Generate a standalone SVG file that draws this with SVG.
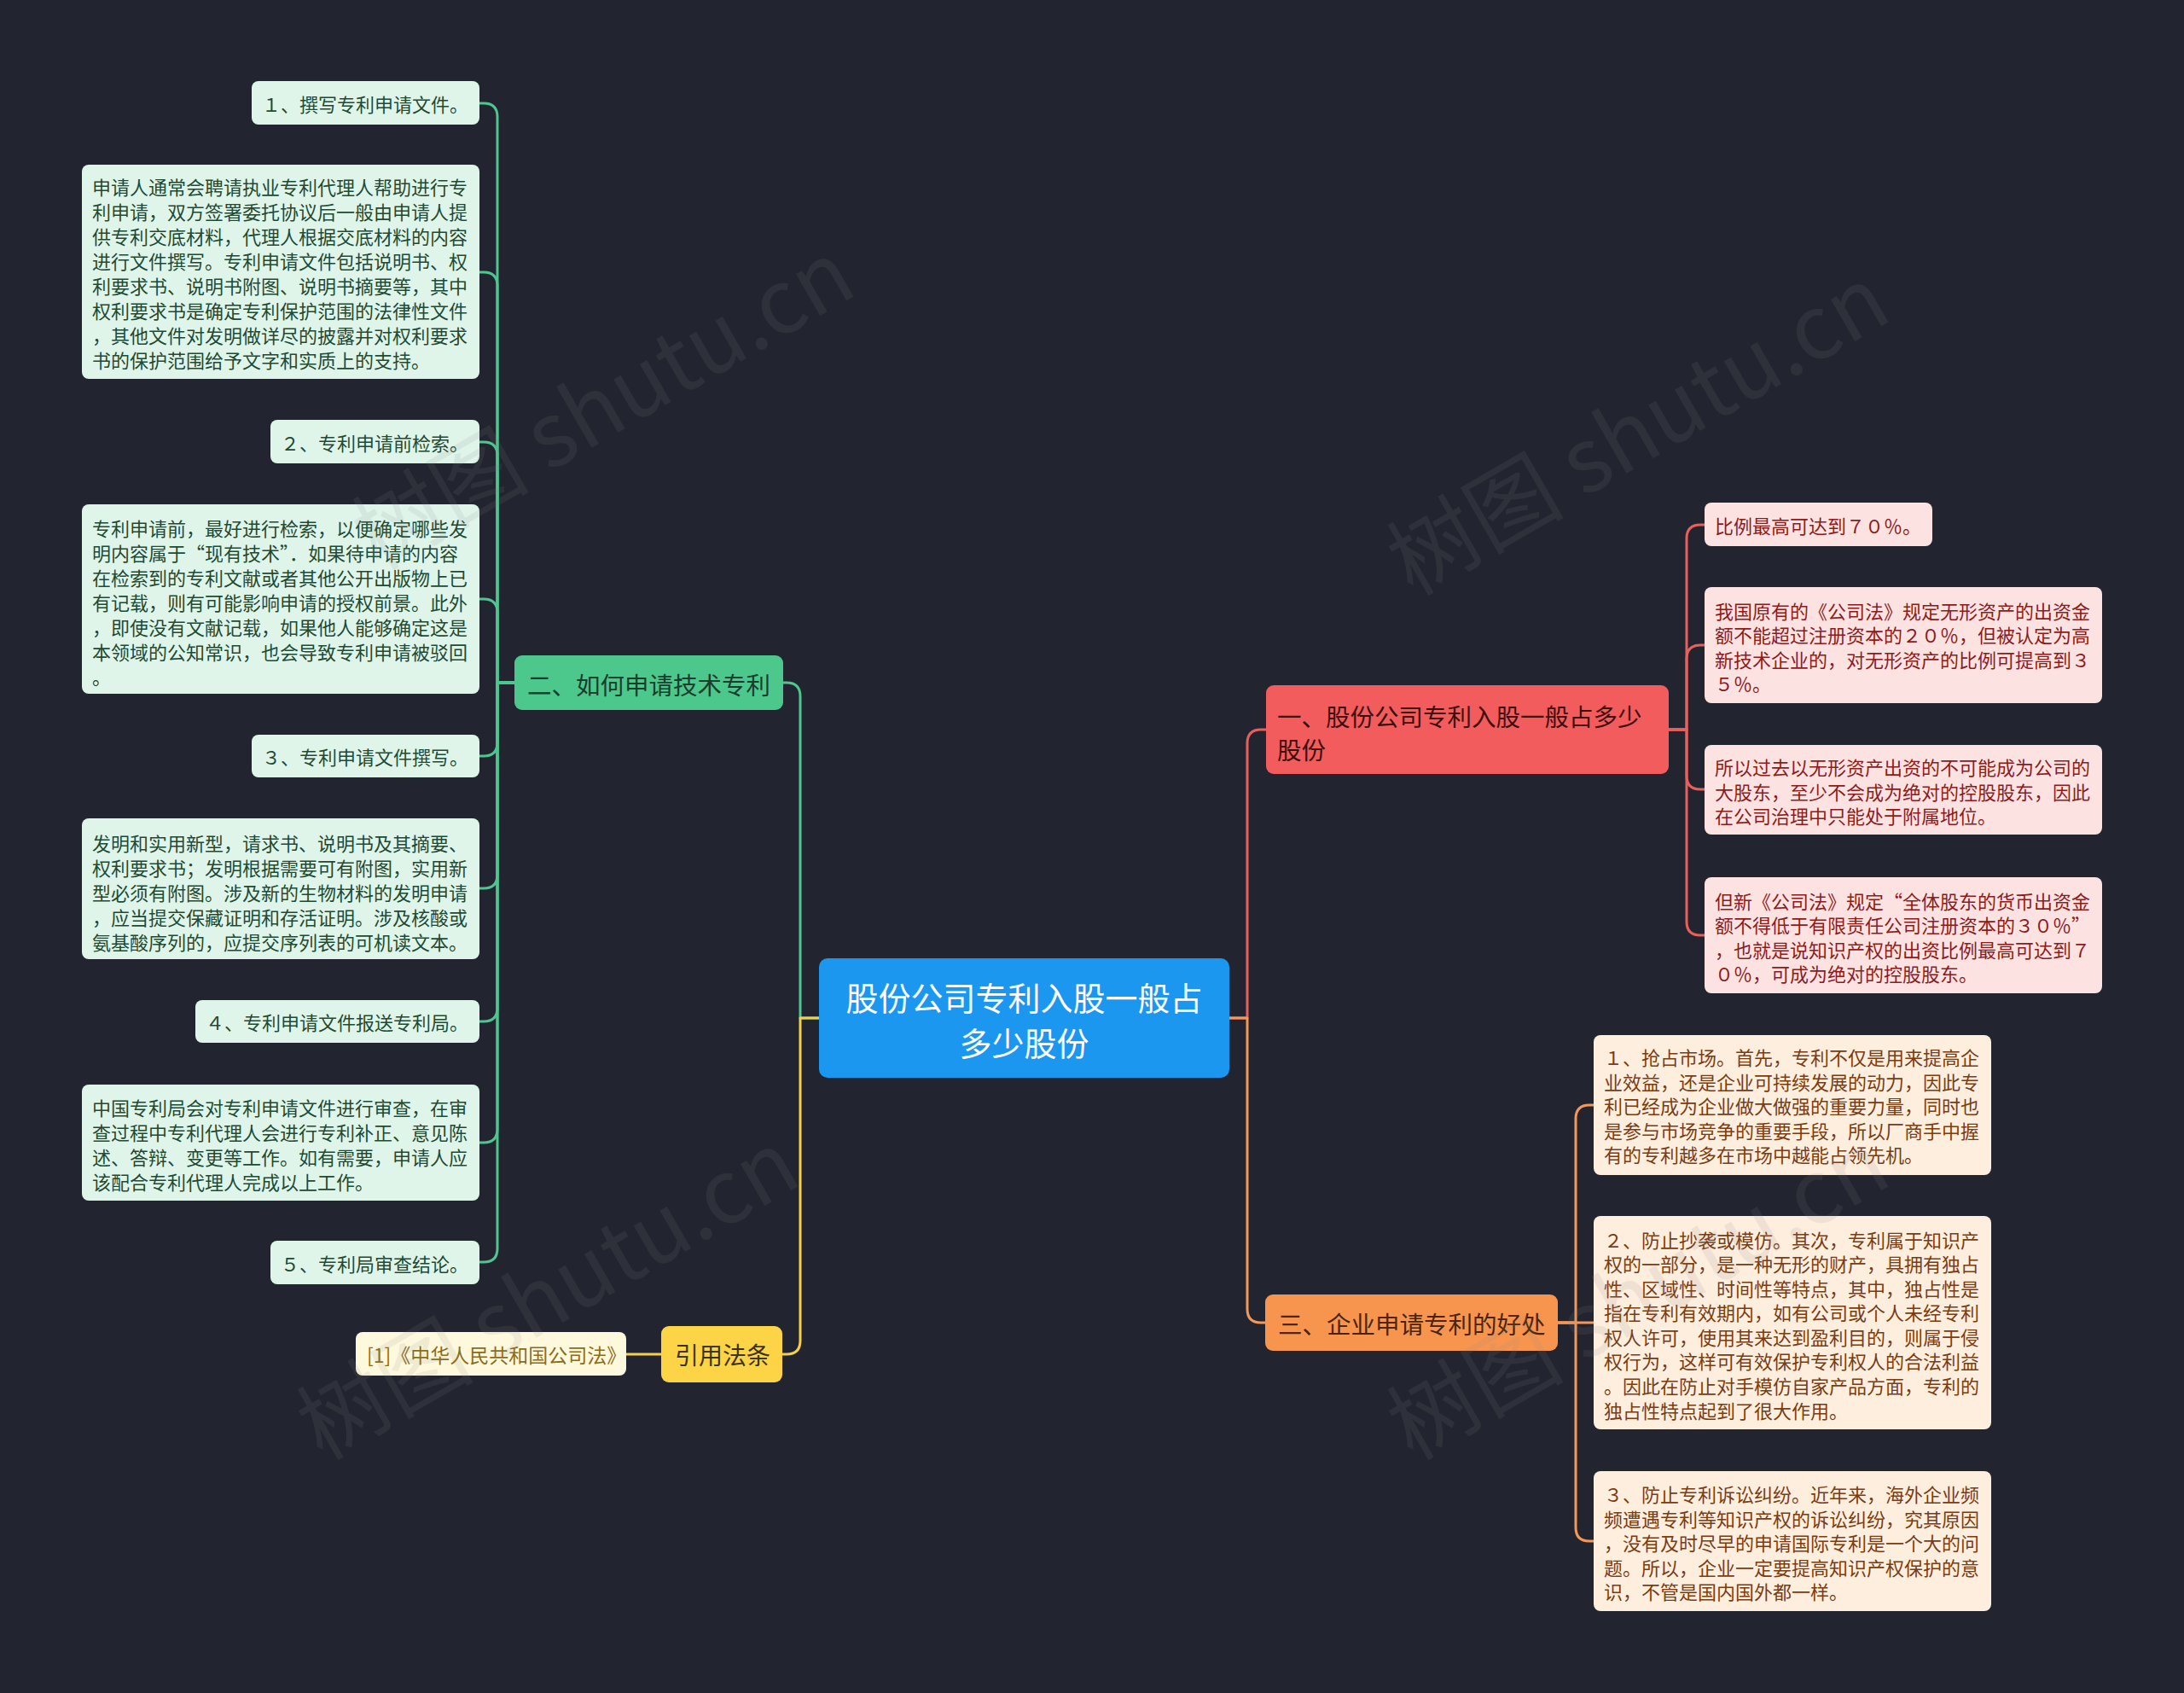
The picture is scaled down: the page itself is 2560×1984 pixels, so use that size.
<svg xmlns="http://www.w3.org/2000/svg" width="2560" height="1984" viewBox="0 0 2560 1984">
<style>
text{font-family:"Noto Sans CJK SC","Noto Sans",sans-serif;dominant-baseline:central}
tspan{dominant-baseline:central}
.c{fill:none;stroke-width:3;stroke-linejoin:round;stroke-linecap:round}
.cg{stroke:#4dc68f}.cr{stroke:#e8605e}.cy{stroke:#f4cf48}.co{stroke:#f2985a}
.s{font-size:22px}
.gb{fill:#dff5ea}.gt{fill:#1f4a33}
.rb{fill:#fde2e2}.rt{fill:#8c1c1c}
.ob{fill:#fdeede}.ot{fill:#7a3c12}
.wm{font-size:104px;fill:#8a8a8a;opacity:0.12;font-family:"Noto Sans CJK SC","DejaVu Sans",sans-serif}
</style>
<rect width="2560" height="1984" fill="#22252f"/>
<g id="connectors">
<path class="c cg" d="M960,1193 H938 V816 Q938,800 922,800 H918"/>
<path class="c cy" d="M960,1193 H938 V1571 Q938,1587 922,1587 H917"/>
<path class="c cy" d="M775,1587 H734"/>
<path class="c cg" d="M603,800 H583 V137 Q583,121 567,121 H562"/>
<path class="c cg" d="M603,800 H583 V335 Q583,319 567,319 H562"/>
<path class="c cg" d="M603,800 H583 V534 Q583,518 567,518 H562"/>
<path class="c cg" d="M603,800 H583 V718 Q583,702 567,702 H562"/>
<path class="c cg" d="M603,800 H583 V870 Q583,886 567,886 H562"/>
<path class="c cg" d="M603,800 H583 V1025 Q583,1041 567,1041 H562"/>
<path class="c cg" d="M603,800 H583 V1181 Q583,1197 567,1197 H562"/>
<path class="c cg" d="M603,800 H583 V1323 Q583,1339 567,1339 H562"/>
<path class="c cg" d="M603,800 H583 V1463 Q583,1479 567,1479 H562"/>
<path class="c cr" d="M1441,1193 H1462 V871 Q1462,855 1478,855 H1484"/>
<path class="c co" d="M1441,1193 H1462 V1534 Q1462,1550 1478,1550 H1483"/>
<path class="c cr" d="M1956,855 H1977 V631 Q1977,615 1993,615 H1998"/>
<path class="c cr" d="M1956,855 H1977 V772 Q1977,756 1993,756 H1998"/>
<path class="c cr" d="M1956,855 H1977 V909 Q1977,925 1993,925 H1998"/>
<path class="c cr" d="M1956,855 H1977 V1080 Q1977,1096 1993,1096 H1998"/>
<path class="c co" d="M1826,1550 H1847 V1311 Q1847,1295 1863,1295 H1868"/>
<path class="c co" d="M1826,1550 H1868"/>
<path class="c co" d="M1826,1550 H1847 V1790 Q1847,1806 1863,1806 H1868"/>
</g>
<g id="root">
<rect x="960" y="1123" width="481" height="140" rx="10" fill="#1b97f0"/>
<text font-size="38" fill="#ffffff" text-anchor="middle"><tspan x="1200.5" y="1167">股份公司专利入股一般占</tspan><tspan x="1200.5" y="1220">多少股份</tspan></text>
</g>
<g id="n-red">
<rect x="1484" y="803" width="472" height="104" rx="9" fill="#f25c5c"/>
<text font-size="28.5" fill="#3c0d0d"><tspan x="1497" y="838">一、股份公司专利入股一般占多少</tspan><tspan x="1497" y="877">股份</tspan></text>
</g>
<g id="n-green">
<rect x="603" y="768" width="315" height="64" rx="9" fill="#4cc88c"/>
<text x="618" y="801" font-size="28.5" fill="#1a3d2c">二、如何申请技术专利</text>
</g>
<g id="n-orange">
<rect x="1483" y="1517" width="343" height="66" rx="9" fill="#f7954f"/>
<text x="1498" y="1550" font-size="28.5" fill="#4a240c">三、企业申请专利的好处</text>
</g>
<g id="n-yellow">
<rect x="775" y="1554" width="142" height="66" rx="9" fill="#fdd446"/>
<text x="791" y="1587" font-size="28" fill="#3a3210">引用法条</text>
</g>
<g id="n-cite">
<rect x="417" y="1561" width="317" height="51" rx="8" fill="#fef8dd"/>
<text x="430" y="1587" font-size="23" fill="#8a6d1a">[1]《中华人民共和国公司法》</text>
</g>
<g id="g1"><rect class="gb" x="295" y="95" width="267" height="51" rx="8"/>
<text class="s gt" x="307" y="121">１、撰写专利申请文件。</text></g>
<g id="g1d"><rect class="gb" x="96" y="193" width="466" height="251" rx="8"/>
<text class="s gt"><tspan x="108" y="218">申请人通常会聘请执业专利代理人帮助进行专</tspan><tspan x="108" y="247">利申请，双方签署委托协议后一般由申请人提</tspan><tspan x="108" y="276">供专利交底材料，代理人根据交底材料的内容</tspan><tspan x="108" y="305">进行文件撰写。专利申请文件包括说明书、权</tspan><tspan x="108" y="334">利要求书、说明书附图、说明书摘要等，其中</tspan><tspan x="108" y="363">权利要求书是确定专利保护范围的法律性文件</tspan><tspan x="108" y="392">，其他文件对发明做详尽的披露并对权利要求</tspan><tspan x="108" y="421">书的保护范围给予文字和实质上的支持。</tspan></text></g>
<g id="g2"><rect class="gb" x="317" y="492" width="245" height="51" rx="8"/>
<text class="s gt" x="329" y="518">２、专利申请前检索。</text></g>
<g id="g2d"><rect class="gb" x="96" y="591" width="466" height="222" rx="8"/>
<text class="s gt"><tspan x="108" y="618">专利申请前，最好进行检索，以便确定哪些发</tspan><tspan x="108" y="647">明内容属于“现有技术”．如果待申请的内容</tspan><tspan x="108" y="676">在检索到的专利文献或者其他公开出版物上已</tspan><tspan x="108" y="705">有记载，则有可能影响申请的授权前景。此外</tspan><tspan x="108" y="734">，即使没有文献记载，如果他人能够确定这是</tspan><tspan x="108" y="763">本领域的公知常识，也会导致专利申请被驳回</tspan><tspan x="108" y="792">。</tspan></text></g>
<g id="g3"><rect class="gb" x="295" y="861" width="267" height="50" rx="8"/>
<text class="s gt" x="307" y="886">３、专利申请文件撰写。</text></g>
<g id="g3d"><rect class="gb" x="96" y="959" width="466" height="165" rx="8"/>
<text class="s gt"><tspan x="108" y="987">发明和实用新型，请求书、说明书及其摘要、</tspan><tspan x="108" y="1016">权利要求书；发明根据需要可有附图，实用新</tspan><tspan x="108" y="1045">型必须有附图。涉及新的生物材料的发明申请</tspan><tspan x="108" y="1074">，应当提交保藏证明和存活证明。涉及核酸或</tspan><tspan x="108" y="1103">氨基酸序列的，应提交序列表的可机读文本。</tspan></text></g>
<g id="g4"><rect class="gb" x="229" y="1172" width="333" height="50" rx="8"/>
<text class="s gt" x="241" y="1197">４、专利申请文件报送专利局。</text></g>
<g id="g4d"><rect class="gb" x="96" y="1271" width="466" height="136" rx="8"/>
<text class="s gt"><tspan x="108" y="1297">中国专利局会对专利申请文件进行审查，在审</tspan><tspan x="108" y="1326">查过程中专利代理人会进行专利补正、意见陈</tspan><tspan x="108" y="1355">述、答辩、变更等工作。如有需要，申请人应</tspan><tspan x="108" y="1384">该配合专利代理人完成以上工作。</tspan></text></g>
<g id="g5"><rect class="gb" x="317" y="1454" width="245" height="51" rx="8"/>
<text class="s gt" x="329" y="1480">５、专利局审查结论。</text></g>
<g id="r1"><rect class="rb" x="1998" y="589" width="267" height="51" rx="8"/>
<text class="s rt" x="2010" y="615">比例最高可达到７０％。</text></g>
<g id="r2"><rect class="rb" x="1998" y="688" width="466" height="136" rx="8"/>
<text class="s rt"><tspan x="2010" y="715">我国原有的《公司法》规定无形资产的出资金</tspan><tspan x="2010" y="743">额不能超过注册资本的２０％，但被认定为高</tspan><tspan x="2010" y="772">新技术企业的，对无形资产的比例可提高到３</tspan><tspan x="2010" y="800">５％。</tspan></text></g>
<g id="r3"><rect class="rb" x="1998" y="873" width="466" height="105" rx="8"/>
<text class="s rt"><tspan x="2010" y="898">所以过去以无形资产出资的不可能成为公司的</tspan><tspan x="2010" y="927">大股东，至少不会成为绝对的控股股东，因此</tspan><tspan x="2010" y="955">在公司治理中只能处于附属地位。</tspan></text></g>
<g id="r4"><rect class="rb" x="1998" y="1028" width="466" height="136" rx="8"/>
<text class="s rt"><tspan x="2010" y="1055">但新《公司法》规定“全体股东的货币出资金</tspan><tspan x="2010" y="1083">额不得低于有限责任公司注册资本的３０％”</tspan><tspan x="2010" y="1112">，也就是说知识产权的出资比例最高可达到７</tspan><tspan x="2010" y="1140">０％，可成为绝对的控股股东。</tspan></text></g>
<g id="o1"><rect class="ob" x="1868" y="1213" width="466" height="164" rx="8"/>
<text class="s ot"><tspan x="1880" y="1238">１、抢占市场。首先，专利不仅是用来提高企</tspan><tspan x="1880" y="1267">业效益，还是企业可持续发展的动力，因此专</tspan><tspan x="1880" y="1295">利已经成为企业做大做强的重要力量，同时也</tspan><tspan x="1880" y="1324">是参与市场竞争的重要手段，所以厂商手中握</tspan><tspan x="1880" y="1352">有的专利越多在市场中越能占领先机。</tspan></text></g>
<g id="o2"><rect class="ob" x="1868" y="1425" width="466" height="250" rx="8"/>
<text class="s ot"><tspan x="1880" y="1452">２、防止抄袭或模仿。其次，专利属于知识产</tspan><tspan x="1880" y="1480">权的一部分，是一种无形的财产，具拥有独占</tspan><tspan x="1880" y="1509">性、区域性、时间性等特点，其中，独占性是</tspan><tspan x="1880" y="1537">指在专利有效期内，如有公司或个人未经专利</tspan><tspan x="1880" y="1566">权人许可，使用其来达到盈利目的，则属于侵</tspan><tspan x="1880" y="1594">权行为，这样可有效保护专利权人的合法利益</tspan><tspan x="1880" y="1623">。因此在防止对手模仿自家产品方面，专利的</tspan><tspan x="1880" y="1652">独占性特点起到了很大作用。</tspan></text></g>
<g id="o3"><rect class="ob" x="1868" y="1724" width="466" height="164" rx="8"/>
<text class="s ot"><tspan x="1880" y="1750">３、防止专利诉讼纠纷。近年来，海外企业频</tspan><tspan x="1880" y="1779">频遭遇专利等知识产权的诉讼纠纷，究其原因</tspan><tspan x="1880" y="1807">，没有及时尽早的申请国际专利是一个大的问</tspan><tspan x="1880" y="1836">题。所以，企业一定要提高知识产权保护的意</tspan><tspan x="1880" y="1864">识，不管是国内国外都一样。</tspan></text></g>
<g id="watermarks">
<text class="wm" transform="translate(420,630) rotate(-30)">树图 shutu.cn</text>
<text class="wm" transform="translate(1633,660) rotate(-30)">树图 shutu.cn</text>
<text class="wm" transform="translate(355,1673) rotate(-30)">树图 shutu.cn</text>
<text class="wm" transform="translate(1633,1673) rotate(-30)">树图 shutu.cn</text>
</g>
</svg>
